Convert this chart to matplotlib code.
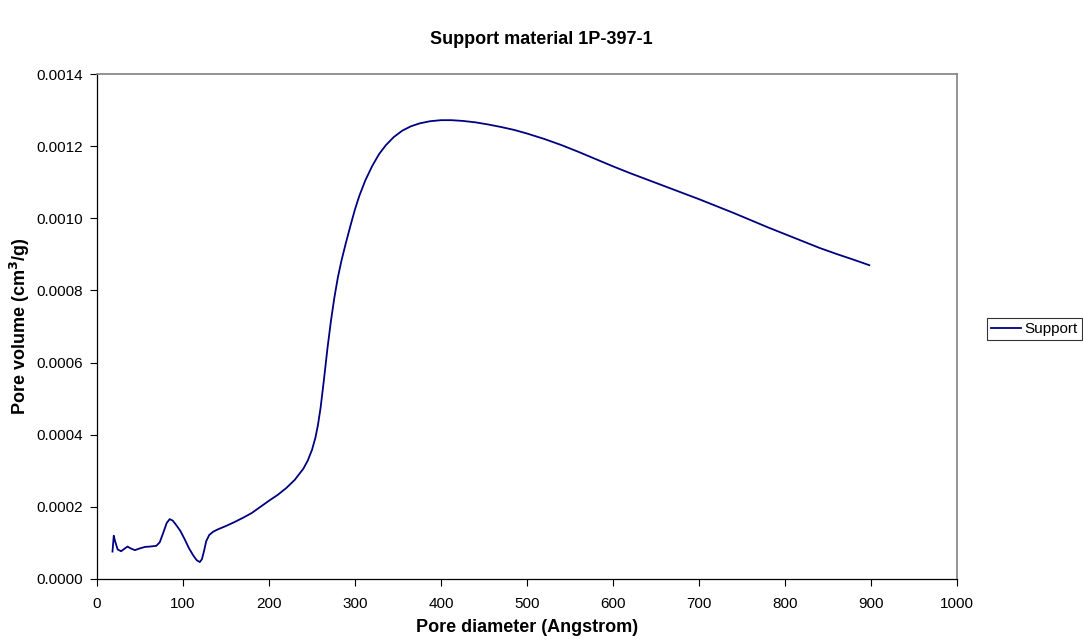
import matplotlib
matplotlib.use("Agg")
import matplotlib.pyplot as plt
from matplotlib.ticker import FormatStrFormatter, MultipleLocator

plt.rcParams["font.family"] = ["Liberation Sans", "DejaVu Sans"]

# Pore size distribution
pore_diameter = [
    18, 19.5, 21, 24, 28, 32, 35.5, 39, 44, 50, 56, 62, 69, 73, 77, 81, 84.5,
    88, 92, 97, 102, 107, 112, 116, 119.5, 122, 124.5, 127, 130.5, 135, 140,
    150, 160, 170, 180, 190, 200, 210, 220, 230, 240, 245, 250, 254, 257, 260,
    264, 268, 272, 276, 280, 284, 289, 295, 300, 305, 312, 320, 328, 336, 345,
    355, 365, 375, 387, 400, 412, 425, 440, 455, 470, 485, 500, 520, 540, 560,
    580, 600, 620, 640, 660, 680, 700, 720, 740, 760, 780, 800, 820, 840, 860,
    880, 898,
]
pore_volume = [
    0.000076, 0.000120, 0.000105, 0.000082, 0.000077, 0.000084, 0.000090,
    0.000085, 0.000080, 0.000085, 0.000089, 0.000090, 0.000092, 0.000102,
    0.000128, 0.000155, 0.000166, 0.000162, 0.000150, 0.000133, 0.000110,
    0.000085, 0.000065, 0.000052, 0.000047, 0.000055, 0.000078, 0.000105,
    0.000122, 0.000131, 0.000137, 0.000147, 0.000158, 0.000170, 0.000183,
    0.000200, 0.000217, 0.000233, 0.000252, 0.000275, 0.000306, 0.000328,
    0.000358, 0.000392, 0.000428, 0.000475, 0.000555, 0.000640, 0.000715,
    0.000780, 0.000835, 0.000880, 0.000928, 0.000982, 0.001025, 0.001062,
    0.001105, 0.001145, 0.001178, 0.001203, 0.001225, 0.001243, 0.001255,
    0.001263, 0.001269, 0.001272, 0.001272, 0.001270, 0.001266, 0.001260,
    0.001253, 0.001245, 0.001235, 0.001220, 0.001203, 0.001184, 0.001164,
    0.001144, 0.001125, 0.001107, 0.001089, 0.001071, 0.001053, 0.001034,
    0.001015, 0.000995, 0.000975, 0.000956, 0.000937, 0.000918, 0.000901,
    0.000885, 0.000870,
]
series_name = "Support"

fig = plt.figure(figsize=(10.83, 6.41), dpi=100)
ax = fig.add_axes([97 / 1083, 1 - 579 / 641, 860 / 1083, 505 / 641])

ax.plot(pore_diameter, pore_volume, color="#000080", lw=1.3, label=series_name)

ax.set_xlim(0, 1000)
ax.set_ylim(0, 0.0014)
ax.xaxis.set_major_locator(MultipleLocator(100))
ax.yaxis.set_major_locator(MultipleLocator(0.0002))
ax.yaxis.set_major_formatter(FormatStrFormatter("%.4f"))
ax.tick_params(direction="out", length=5, width=0.8, labelsize=11, colors="black")
ax.tick_params(axis="x", pad=8)
ax.tick_params(axis="y", pad=5)

for side in ("top", "right"):
    ax.spines[side].set_color("#808080")
    ax.spines[side].set_linewidth(1.2)
for side in ("left", "bottom"):
    ax.spines[side].set_color("black")
    ax.spines[side].set_linewidth(0.9)

ax.set_xlabel("Pore diameter (Angstrom)", fontsize=13, fontweight="bold", labelpad=6)
ax.set_ylabel("Pore volume (cm$^\\mathbf{3}$/g)", fontsize=13, fontweight="bold", labelpad=3)
fig.text(0.5, 1 - 40 / 641, "Support material 1P-397-1", ha="center", va="center",
         fontsize=13, fontweight="bold")

leg = ax.legend(loc="center left", bbox_to_anchor=(1.035, 0.495), frameon=True,
                fancybox=False, fontsize=11, handlelength=2.0, borderpad=0.25,
                handletextpad=0.2, borderaxespad=0)
leg.get_frame().set_edgecolor("black")
leg.get_frame().set_linewidth(0.8)

fig.savefig("out.png", dpi=100)
